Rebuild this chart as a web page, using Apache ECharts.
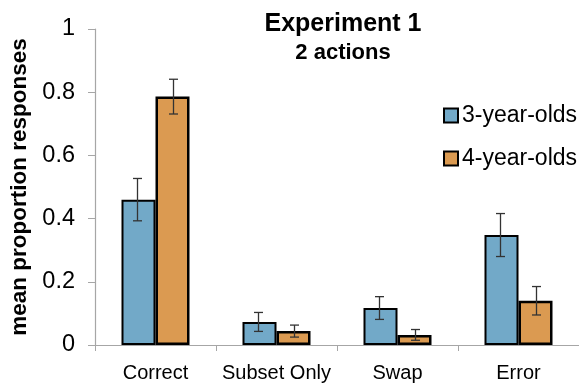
<!DOCTYPE html>
<html>
<head>
<meta charset="utf-8">
<script src="https://cdn.jsdelivr.net/npm/echarts@6/dist/echarts.min.js"></script>
<style>
  html, body { margin: 0; padding: 0; background: #fff; }
  #chart { width: 579px; height: 383px; }
</style>
</head>
<body>
<div id="chart"></div>
<script>
// Response categories and group means with standard-error half-widths
const categories = ['Correct', 'Subset Only', 'Swap', 'Error'];
const seriesNames = ['3-year-olds', '4-year-olds'];
const means3 = [0.46, 0.073, 0.117, 0.348];
const err3 = [0.067, 0.030, 0.036, 0.068];
const means4 = [0.786, 0.044, 0.032, 0.140];
const err4 = [0.055, 0.019, 0.017, 0.045];
const yTicks = [0, 0.2, 0.4, 0.6, 0.8, 1];

const FONT = '"Liberation Sans", Arial, Helvetica, sans-serif';
const BAR_W = 34;

function errorSeries(name, means, errs, side) {
  return {
    type: 'custom',
    name: name + ' SE',
    z: 5,
    silent: true,
    data: means.map((m, i) => [i, m - errs[i], m + errs[i]]),
    renderItem: function (params, api) {
      const lo = api.coord([api.value(0), api.value(1)]);
      const hi = api.coord([api.value(0), api.value(2)]);
      const x = lo[0] + side * (BAR_W / 2 + 1);
      const cap = 4.5;
      const style = { stroke: '#333', lineWidth: 1.3 };
      return {
        type: 'group',
        children: [
          { type: 'line', shape: { x1: x, y1: lo[1], x2: x, y2: hi[1] }, style },
          { type: 'line', shape: { x1: x - cap, y1: lo[1], x2: x + cap, y2: lo[1] }, style },
          { type: 'line', shape: { x1: x - cap, y1: hi[1], x2: x + cap, y2: hi[1] }, style }
        ]
      };
    }
  };
}

const chart = echarts.init(document.getElementById('chart'), null, { renderer: 'canvas' });
chart.setOption({
  animation: false,
  backgroundColor: '#ffffff',
  title: {
    text: 'Experiment 1',
    subtext: '2 actions',
    left: 338,
    textAlign: 'center',
    top: 7,
    itemGap: 5,
    textStyle: { fontFamily: FONT, fontSize: 25, fontWeight: 'bold', color: '#000' },
    subtextStyle: { fontFamily: FONT, fontSize: 22, fontWeight: 'bold', color: '#000' }
  },
  legend: {
    data: seriesNames,
    orient: 'vertical',
    left: 443,
    top: 104,
    padding: 0,
    itemGap: 20,
    itemWidth: 14,
    itemHeight: 14,
    icon: 'rect',
    textStyle: { fontFamily: FONT, fontSize: 23, color: '#000', padding: [0, 0, 0, -1] }
  },
  grid: { left: 95, right: -9, top: 29, bottom: 37, containLabel: false },
  xAxis: {
    type: 'category',
    data: categories,
    axisLine: { lineStyle: { color: '#a6a6a6', width: 1.2 } },
    axisTick: { show: true, length: 6, lineStyle: { color: '#a6a6a6' } },
    axisLabel: { interval: 0, fontFamily: FONT, fontSize: 20, color: '#000', margin: 18 }
  },
  yAxis: {
    type: 'value',
    min: yTicks[0],
    max: yTicks[yTicks.length - 1],
    interval: 0.2,
    name: 'mean proportion responses',
    nameLocation: 'middle',
    nameGap: 62,
    nameTextStyle: { fontFamily: FONT, fontSize: 22.5, fontWeight: 'bold', color: '#000' },
    splitLine: { show: false },
    axisLine: { show: true, lineStyle: { color: '#a6a6a6', width: 1.2 } },
    axisTick: { show: true, length: 7, lineStyle: { color: '#a6a6a6' } },
    axisLabel: { fontFamily: FONT, fontSize: 23.5, color: '#000', margin: 20 }
  },
  series: [
    {
      type: 'bar',
      name: seriesNames[0],
      data: means3,
      barWidth: BAR_W,
      barGap: '0%',
      itemStyle: { color: '#72a9c8', borderColor: '#000', borderWidth: 2 }
    },
    {
      type: 'bar',
      name: seriesNames[1],
      data: means4,
      barWidth: BAR_W,
      barGap: '0%',
      itemStyle: { color: '#db9a51', borderColor: '#000', borderWidth: 2.5 }
    },
    errorSeries(seriesNames[0], means3, err3, -1),
    errorSeries(seriesNames[1], means4, err4, 1)
  ]
});
</script>
</body>
</html>
